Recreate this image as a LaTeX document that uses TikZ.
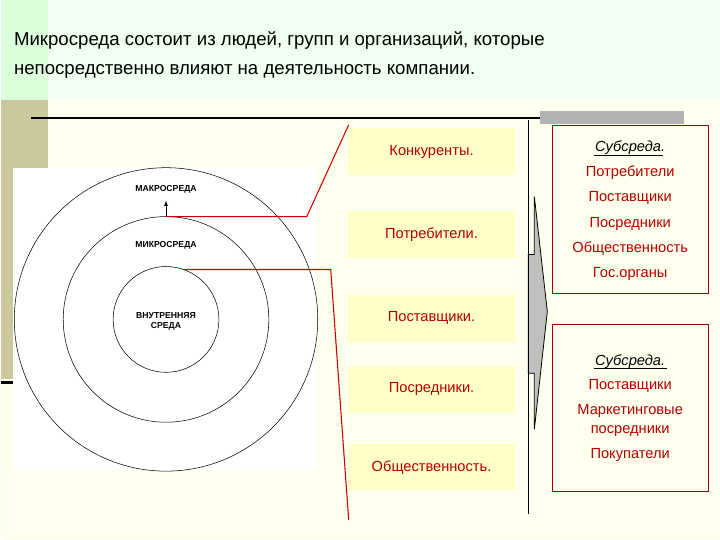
\documentclass[tikz,border=0pt]{standalone}
\usepackage{fontspec}
\setmainfont{Liberation Sans}
\definecolor{olivestrip}{HTML}{C9C99B}
\definecolor{cream}{HTML}{FFFFEE}
\definecolor{ybx}{HTML}{FFFFC8}
\begin{document}
\begin{tikzpicture}[x=0.75pt,y=-0.75pt,
  ybox/.style={fill=ybx,draw=none,minimum width=125pt,minimum height=35pt},
  rtxt/.style={text=red!70!black,font=\fontsize{11}{12}\selectfont},
  ctxt/.style={font=\fontsize{6.5}{7.5}\selectfont\bfseries,align=center,inner sep=1pt},
  redln/.style={draw=red!80!black,line width=0.8pt},
  rbox/.style={draw=red!60!black,fill=cream,line width=0.5pt},
  stxt/.style={font=\fontsize{11}{12}\selectfont\itshape,inner sep=1pt}]
\fill[cream] (0,0) rectangle (720,540);
\fill[green!6] (0,0) rectangle (720,100);
\fill[olivestrip] (0,100) rectangle (47,380);
\fill[green!14] (0,0) rectangle (47,100);
\draw[line width=2pt] (0,383) -- (12,383);
\useasboundingbox (0,0) rectangle (720,540);
\node[anchor=west,align=left,font=\fontsize{14}{22}\selectfont] (title) at (8,55)
 {Микросреда состоит из людей, групп и организаций, которые\\непосредственно влияют на деятельность компании.};
\draw[line width=1.5pt] (30,118) -- (540,118);
\fill[gray!60] (540,111) rectangle (684,124);
% circles
\fill[white] (12,168) rectangle (316,472);
\coordinate (c) at (165,320);
\draw[thin] (c) circle[radius=152];
\draw[thin] (c) circle[radius=103];
\draw[thin] (c) circle[radius=53];
\node[ctxt] (macro) at (165,190) {МАКРОСРЕДА};
\node[ctxt] (micro) at (165,246) {МИКРОСРЕДА};
\node[ctxt] (inner) at (165,322) {ВНУТРЕННЯЯ\\СРЕДА};
\coordinate (mtop) at (165,217);
\draw[-latex] (mtop) -- (165,201);
\coordinate (itop) at (183,270);
\coordinate (k1) at (306,217);
\coordinate (k2) at (348,125);
\coordinate (k3) at (330,270);
\coordinate (k4) at (348,521);
\draw[redln] (mtop) -- (k1) -- (k2);
\draw[redln] (itop) -- (k3) -- (k4);
% yellow boxes
\node[ybox,rtxt] (b1) at (431,152) {Конкуренты.};
\node[ybox,rtxt] (b2) at (431,235) {Потребители.};
\node[ybox,rtxt] (b3) at (431,319) {Поставщики.};
\node[ybox,rtxt] (b4) at (431,390) {Посредники.};
\node[ybox,rtxt] (b5) at (431,468) {Общественность.};
\draw[line width=1pt] (528,120) -- (528,515);
\filldraw[fill=gray!50,draw=black,line width=0.6pt] (528,255)--(534,255)--(534,197)--(547,312)--(534,430)--(534,374)--(528,374)--cycle;
% right boxes
\draw[rbox] (552,126) rectangle (708,294);
\draw[rbox] (552,325) rectangle (708,492);
\node[stxt] (s1) at (630,148) {Субсреда.};
\draw[thin] ([yshift=1]s1.south west) -- ([xshift=-3pt,yshift=1]s1.south east);
\node[rtxt] (p1) at (630,173) {Потребители};
\node[rtxt] (p2) at (630,198) {Поставщики};
\node[rtxt] (p3) at (630,224) {Посредники};
\node[rtxt] (p4) at (630,249) {Общественность};
\node[rtxt] (p5) at (630,274) {Гос.органы};
\node[stxt] (s2) at (630,362) {Субсреда.};
\draw[thin] ([yshift=1]s2.south west) -- ([yshift=1]s2.south east);
\node[rtxt] (q1) at (630,387) {Поставщики};
\node[rtxt,align=center,font=\fontsize{11}{14}\selectfont] (q2) at (630,421) {Маркетинговые\\посредники};
\node[rtxt] (q3) at (630,456) {Покупатели};
\end{tikzpicture}
\end{document}
